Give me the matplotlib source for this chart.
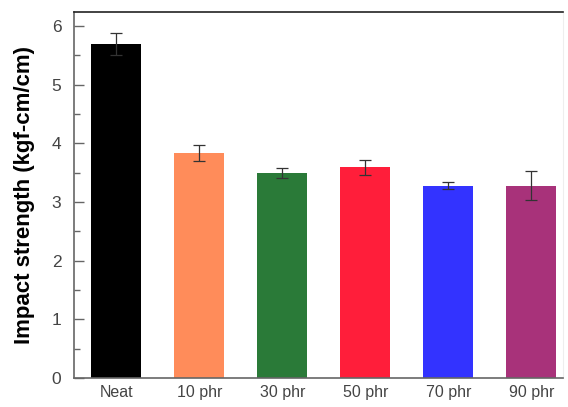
import numpy as np
import matplotlib.pyplot as plt

plt.rcParams['font.family'] = ['Liberation Sans', 'DejaVu Sans']

# Impact strength per sample
samples = ['Neat', '10 phr', '30 phr', '50 phr', '70 phr', '90 phr']
strength = [5.69, 3.84, 3.49, 3.59, 3.28, 3.28]
errors = [0.19, 0.14, 0.085, 0.13, 0.06, 0.25]
colors = ['#000000', '#FF8C5A', '#2A7A38', '#FF1E3A', '#3333FF', '#A8327A']

fig = plt.figure(figsize=(5.68, 4.07), dpi=100)
ax = fig.add_axes([0.130, 0.0713, 0.861, 0.8992])

x = np.arange(len(samples))
ax.bar(x, strength, width=0.6, color=colors, yerr=errors,
       error_kw=dict(ecolor='#333333', elinewidth=0.9, capsize=4, capthick=0.9))

ax.set_xlim(-0.51, 5.38)
ax.set_ylim(0, 6.24)
ax.set_xticks(x)
ax.set_xticklabels(samples, fontsize=11.5, color='#444444')
ax.tick_params(axis='x', length=0, pad=5)
ax.set_yticks(range(7))
ax.set_yticks(np.arange(0.5, 6.5, 1), minor=True)
ax.tick_params(axis='y', which='major', length=7, width=1, colors='#666666', labelsize=12.5,
               labelcolor='#444444', direction='in', pad=9)
ax.tick_params(axis='y', which='minor', length=4, width=1, colors='#666666', direction='in')
ax.set_ylabel('Impact strength (kgf-cm/cm)', fontsize=16, fontweight='bold', labelpad=12)

for side in ['left', 'bottom']:
    ax.spines[side].set_color('#666666')
    ax.spines[side].set_linewidth(1.2)
ax.spines['top'].set_color('#222222')
ax.spines['top'].set_linewidth(1.2)
ax.spines['right'].set_color('#eeeeee')

fig.savefig('out.png', dpi=100)
